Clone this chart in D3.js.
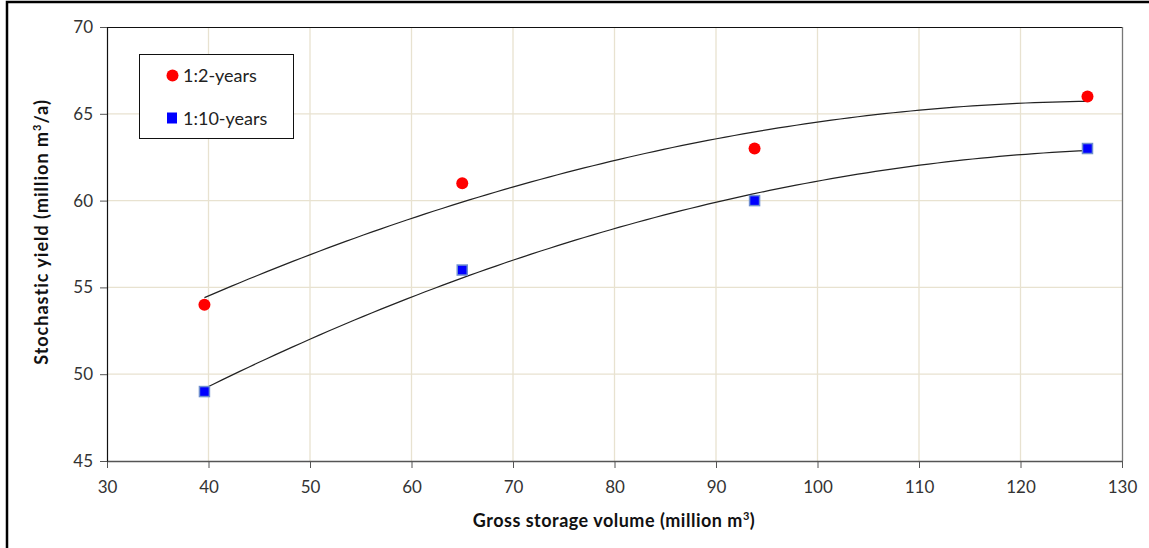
<!DOCTYPE html>
<html>
<head>
<meta charset="utf-8">
<script src="https://cdn.jsdelivr.net/npm/d3@7"></script>
<style>
  body { margin: 0; background: #fff; }
  svg { display: block; font-family: Lato, "Open Sans", sans-serif; }
</style>
</head>
<body>
<div id="chart"></div>
<script>
// data
const storage = [39.6, 65, 93.8, 126.6];
const yield2yr = [54, 61, 63, 66];
const yield10yr = [49, 56, 60, 63];
const xTicks = [30, 40, 50, 60, 70, 80, 90, 100, 110, 120, 130];
const yTicks = [45, 50, 55, 60, 65, 70];

const W = 1149, H = 548;
const m = {left: 107, top: 27, right: 1122, bottom: 461};

const svg = d3.select('#chart').append('svg')
    .attr('width', W)
    .attr('height', H);

// outer chart frame
svg.append('rect')
    .attr('x', 7).attr('y', 2)
    .attr('width', W + 20).attr('height', H + 20)
    .attr('fill', 'none')
    .attr('stroke', '#000')
    .attr('stroke-width', 2.5);

const x = d3.scaleLinear().domain([30, 130]).range([m.left, m.right]);
const y = d3.scaleLinear().domain([45, 70]).range([m.bottom, m.top]);

// grid
svg.append('g').selectAll('line')
    .data(xTicks.slice(1, -1))
    .enter().append('line')
    .attr('x1', d => x(d)).attr('x2', d => x(d))
    .attr('y1', m.top).attr('y2', m.bottom)
    .attr('stroke', '#e8e2d0').attr('stroke-width', 1.3);
svg.append('g').selectAll('line')
    .data(yTicks.slice(1, -1))
    .enter().append('line')
    .attr('x1', m.left).attr('x2', m.right)
    .attr('y1', d => y(d)).attr('y2', d => y(d))
    .attr('stroke', '#e8e2d0').attr('stroke-width', 1.3);

// plot border (top/right)
svg.append('line')
    .attr('x1', m.left).attr('x2', m.right)
    .attr('y1', m.top + 0.5).attr('y2', m.top + 0.5)
    .attr('stroke', '#111').attr('stroke-width', 1);
svg.append('line')
    .attr('x1', m.right + 0.5).attr('x2', m.right + 0.5)
    .attr('y1', m.top).attr('y2', m.bottom)
    .attr('stroke', '#777').attr('stroke-width', 1.3);

// axes
const xAxis = svg.append('g')
    .attr('transform', `translate(0,${m.bottom})`)
    .call(d3.axisBottom(x).tickValues(xTicks).tickSize(7).tickSizeOuter(0));
const yAxis = svg.append('g')
    .attr('transform', `translate(${m.left},0)`)
    .call(d3.axisLeft(y).tickValues(yTicks).tickSize(7).tickSizeOuter(0));

xAxis.select('.domain').attr('stroke', '#555').attr('stroke-width', 1.3);
yAxis.select('.domain').attr('stroke', '#111').attr('stroke-width', 1.2);
xAxis.selectAll('.tick line').attr('stroke', '#555');
yAxis.selectAll('.tick line').attr('stroke', '#555');
xAxis.selectAll('.tick text')
    .attr('font-size', 17).attr('fill', '#333')
    .attr('font-family', 'Lato, sans-serif')
    .attr('dy', '1.28em');
yAxis.selectAll('.tick text')
    .attr('font-size', 17).attr('fill', '#333')
    .attr('font-family', 'Lato, sans-serif')
    .attr('x', -14);

// quadratic trend lines (least squares on the points)
function quadFit(xs, ys) {
    const n = xs.length;
    let s = [0, 0, 0, 0, 0], t = [0, 0, 0];
    for (let i = 0; i < n; i++) {
        for (let k = 0; k < 5; k++) s[k] += Math.pow(xs[i], k);
        for (let k = 0; k < 3; k++) t[k] += ys[i] * Math.pow(xs[i], k);
    }
    const A = [[s[0], s[1], s[2], t[0]], [s[1], s[2], s[3], t[1]], [s[2], s[3], s[4], t[2]]];
    for (let i = 0; i < 3; i++) {
        for (let j = i + 1; j < 3; j++) {
            const f = A[j][i] / A[i][i];
            for (let k = i; k < 4; k++) A[j][k] -= f * A[i][k];
        }
    }
    const c = [0, 0, 0];
    for (let i = 2; i >= 0; i--) {
        let v = A[i][3];
        for (let k = i + 1; k < 3; k++) v -= A[i][k] * c[k];
        c[i] = v / A[i][i];
    }
    return v => c[0] + c[1] * v + c[2] * v * v;
}

const line = d3.line().x(d => x(d[0])).y(d => y(d[1]));
const xs = d3.range(0, 101).map(i => storage[0] + (storage[3] - storage[0]) * i / 100);
[yield2yr, yield10yr].forEach(series => {
    const f = quadFit(storage, series);
    svg.append('path')
        .attr('d', line(xs.map(v => [v, f(v)])))
        .attr('fill', 'none')
        .attr('stroke', '#222')
        .attr('stroke-width', 1.2);
});

// markers
svg.append('g').selectAll('circle')
    .data(storage)
    .enter().append('circle')
    .attr('cx', d => x(d))
    .attr('cy', (d, i) => y(yield2yr[i]))
    .attr('r', 6)
    .attr('fill', '#ff0000');

svg.append('g').selectAll('rect')
    .data(storage)
    .enter().append('rect')
    .attr('x', d => x(d) - 5)
    .attr('y', (d, i) => y(yield10yr[i]) - 5)
    .attr('width', 10).attr('height', 10)
    .attr('fill', '#0000ff')
    .attr('stroke', '#6f8fd0')
    .attr('stroke-width', 1.5);

// legend
const lg = svg.append('g');
lg.append('rect')
    .attr('x', 139.5).attr('y', 54.5)
    .attr('width', 154).attr('height', 84)
    .attr('fill', '#fff')
    .attr('stroke', '#111')
    .attr('stroke-width', 1);
lg.append('circle')
    .attr('cx', 172.5).attr('cy', 75.5).attr('r', 6)
    .attr('fill', '#ff0000');
lg.append('rect')
    .attr('x', 167).attr('y', 112.5)
    .attr('width', 10).attr('height', 11)
    .attr('fill', '#0000ff');
lg.append('text')
    .attr('x', 183).attr('y', 82)
    .attr('font-size', 18).attr('fill', '#222')
    .text('1:2-years');
lg.append('text')
    .attr('x', 183).attr('y', 124.5)
    .attr('font-size', 18).attr('fill', '#222')
    .text('1:10-years');

// axis titles
const xt = svg.append('text')
    .attr('x', 614).attr('y', 527)
    .attr('text-anchor', 'middle')
    .attr('font-size', 18).attr('font-weight', 'bold').attr('fill', '#111')
    .attr('letter-spacing', 0.5)
    .text('Gross storage volume (million m');
xt.append('tspan').attr('font-size', 11).attr('dy', -7).text('3');
xt.append('tspan').attr('dy', 7).text(')');

const yt = svg.append('text')
    .attr('transform', 'translate(48,232) rotate(-90)')
    .attr('text-anchor', 'middle')
    .attr('font-size', 18).attr('font-weight', 'bold').attr('fill', '#111')
    .attr('letter-spacing', 1)
    .text('Stochastic yield (million m');
yt.append('tspan').attr('font-size', 11).attr('dy', -7).text('3');
yt.append('tspan').attr('dy', 7).text('/a)');
</script>
</body>
</html>
